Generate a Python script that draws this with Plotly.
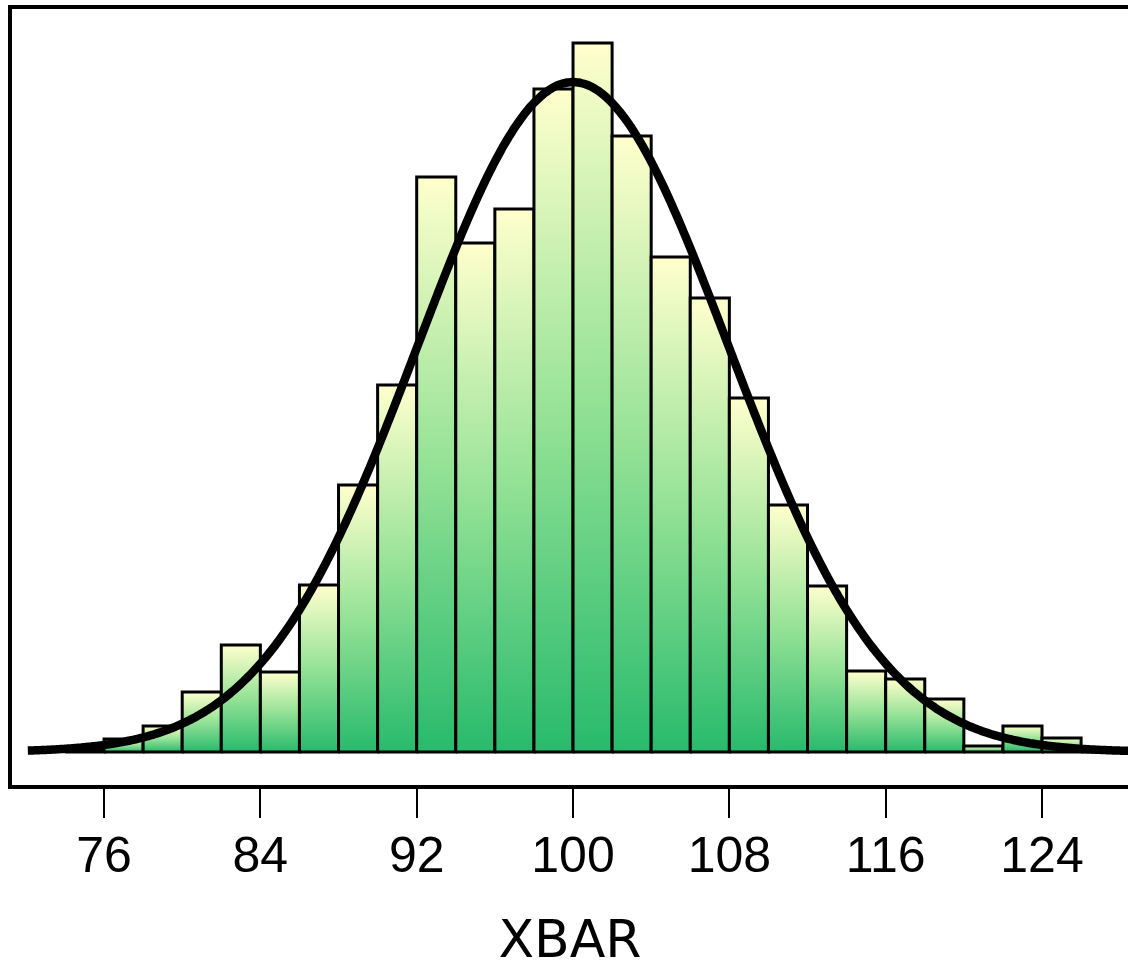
import math
import plotly.graph_objects as go

# ---- data ----
bin_left = [74, 76, 78, 80, 82, 84, 86, 88, 90, 92, 94, 96, 98, 100,
            102, 104, 106, 108, 110, 112, 114, 116, 118, 120, 122, 124, 126]
bin_width = 2
counts = [2, 13, 26, 60, 107, 80, 167, 267, 367, 575, 509, 543, 663, 709,
          616, 495, 454, 354, 247, 166, 81, 73, 53, 6, 26, 14, 2]
tick_values = [76, 84, 92, 100, 108, 116, 124]
tick_labels = ["76", "84", "92", "100", "108", "116", "124"]
fit_mean = 100.0
fit_sd = 7.95
curve_from, curve_to = 72.1, 128.6
x_title = "XBAR"

fig = go.Figure()

grad = [[0.0, "rgb(40,186,108)"], [0.5, "rgb(148,226,150)"], [1.0, "rgb(255,255,204)"]]

for left, c in zip(bin_left, counts):
    right = left + bin_width
    fig.add_trace(go.Scatter(
        x=[left, left, right, right, left],
        y=[0, c, c, 0, 0],
        mode="lines",
        fill="toself",
        fillgradient=dict(type="vertical", colorscale=grad, start=0, stop=c),
        line=dict(color="black", width=3),
        hoverinfo="skip",
        showlegend=False,
    ))

# fitted normal curve, scaled to histogram area
n_total = sum(counts)
scale = n_total * bin_width / (fit_sd * math.sqrt(2 * math.pi))
n_pts = 400
cx = [curve_from + (curve_to - curve_from) * i / (n_pts - 1) for i in range(n_pts)]
cy = [scale * math.exp(-0.5 * ((v - fit_mean) / fit_sd) ** 2) for v in cx]
fig.add_trace(go.Scatter(x=cx, y=cy, mode="lines",
                         line=dict(color="black", width=8.5, shape="spline"),
                         hoverinfo="skip", showlegend=False))

fig.update_layout(
    width=1128, height=969,
    margin=dict(l=12, r=0, t=9, b=184, autoexpand=False),
    paper_bgcolor="white", plot_bgcolor="white",
    showlegend=False,
    xaxis=dict(
        range=[71.29, 128.40],
        automargin=False,
        showgrid=False, zeroline=False,
        showline=True, linecolor="black", linewidth=4, mirror=True,
        ticks="outside", ticklen=29, tickwidth=2, tickcolor="black",
        tickvals=tick_values, ticktext=tick_labels,
        tickfont=dict(family="Liberation Sans Narrow, Liberation Sans, sans-serif",
                      size=50, color="black"),
        ticklabelstandoff=-6,
        title=dict(text=x_title, standoff=58,
                   font=dict(family="DejaVu Sans, sans-serif", size=52, color="black")),
    ),
    yaxis=dict(
        range=[-33, 743],
        automargin=False,
        showgrid=False, zeroline=False,
        showline=True, linecolor="black", linewidth=4, mirror=False,
        showticklabels=False, ticks="",
    ),
)

fig.write_html("out.html")
